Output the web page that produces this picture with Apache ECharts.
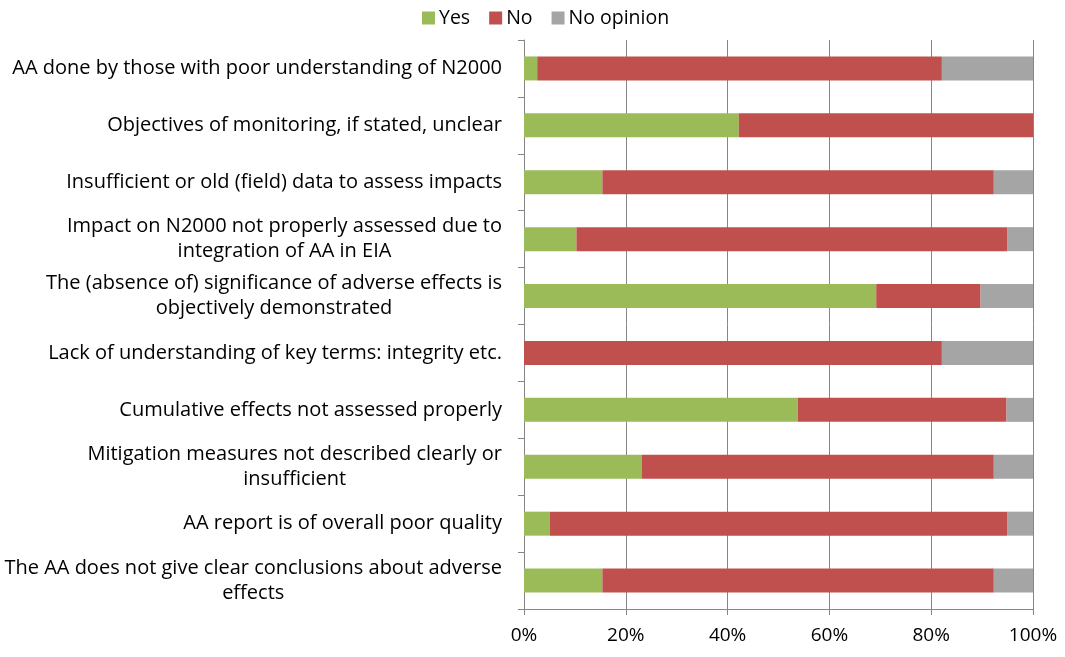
<!DOCTYPE html>
<html>
<head>
<meta charset="utf-8">
<script src="https://cdn.jsdelivr.net/npm/echarts@6/dist/echarts.min.js"></script>
<style>
  html, body { margin: 0; padding: 0; background: #fff; }
  #chart { width: 1065px; height: 657px; }
</style>
</head>
<body>
<div id="chart"></div>
<script>
// categories, top to bottom
const categories = [
  'AA done by those with poor understanding of N2000',
  'Objectives of monitoring, if stated, unclear',
  'Insufficient or old (field) data to assess impacts',
  'Impact on N2000 not properly assessed due to\nintegration of AA in EIA',
  'The (absence of) significance of adverse effects is\nobjectively demonstrated',
  'Lack of understanding of key terms: integrity etc.',
  'Cumulative effects not assessed properly',
  'Mitigation measures not described clearly or\ninsufficient',
  'AA report is of overall poor quality',
  'The AA does not give clear conclusions about adverse\neffects'
]
// shares in %
const yesValues = [2.6, 42.2, 15.4, 10.3, 69.2, 0, 53.8, 23.1, 5.1, 15.4]
const noValues = [79.5, 57.8, 76.9, 84.6, 20.5, 82.1, 41.0, 69.2, 89.8, 76.9]
const noOpinionValues = [17.9, 0, 7.7, 5.1, 10.3, 17.9, 5.2, 7.7, 5.1, 7.7]
const xTicks = [0, 20, 40, 60, 80, 100]

const font = 'Open Sans'
const chart = echarts.init(document.getElementById('chart'))

const option = {
  animation: false,
  textStyle: { fontFamily: font },
  legend: {
    top: 3,
    left: 417,
    itemWidth: 13,
    itemHeight: 13,
    itemGap: 19,
    icon: 'rect',
    textStyle: { fontSize: 19.5, color: '#000', fontFamily: font, padding: [0, 0, 0, -1] },
    data: ['Yes', 'No', 'No opinion']
  },
  grid: { left: 524, right: 32, top: 40, bottom: 48 },
  xAxis: {
    type: 'value',
    min: xTicks[0],
    max: xTicks[xTicks.length - 1],
    interval: 20,
    axisLine: { show: true, lineStyle: { color: '#868686' } },
    axisTick: { show: true, length: 6, lineStyle: { color: '#868686' } },
    splitLine: { show: true, lineStyle: { color: '#868686' } },
    axisLabel: { formatter: '{value}%', fontSize: 19, color: '#000', margin: 17, fontFamily: font }
  },
  yAxis: {
    type: 'category',
    inverse: true,
    data: categories,
    axisLine: { show: true, lineStyle: { color: '#868686' } },
    axisTick: { show: true, length: 6, lineStyle: { color: '#868686' } },
    axisLabel: {
      margin: 22,
      color: '#000',
      fontSize: 20,
      lineHeight: 25,
      fontFamily: font,
      formatter: v => v.split('\n').map(s => '{c|' + s + '}').join('\n'),
      rich: { c: { align: 'center', fontSize: 20, lineHeight: 25, fontFamily: font, color: '#000' } }
    }
  },
  series: [
    { name: 'Yes', type: 'bar', stack: 'all', barWidth: 24, data: yesValues, itemStyle: { color: '#9BBB59' } },
    { name: 'No', type: 'bar', stack: 'all', barWidth: 24, data: noValues, itemStyle: { color: '#C0504D' } },
    { name: 'No opinion', type: 'bar', stack: 'all', barWidth: 24, data: noOpinionValues, itemStyle: { color: '#A5A5A5' } }
  ]
}

chart.setOption(option)
</script>
</body>
</html>
